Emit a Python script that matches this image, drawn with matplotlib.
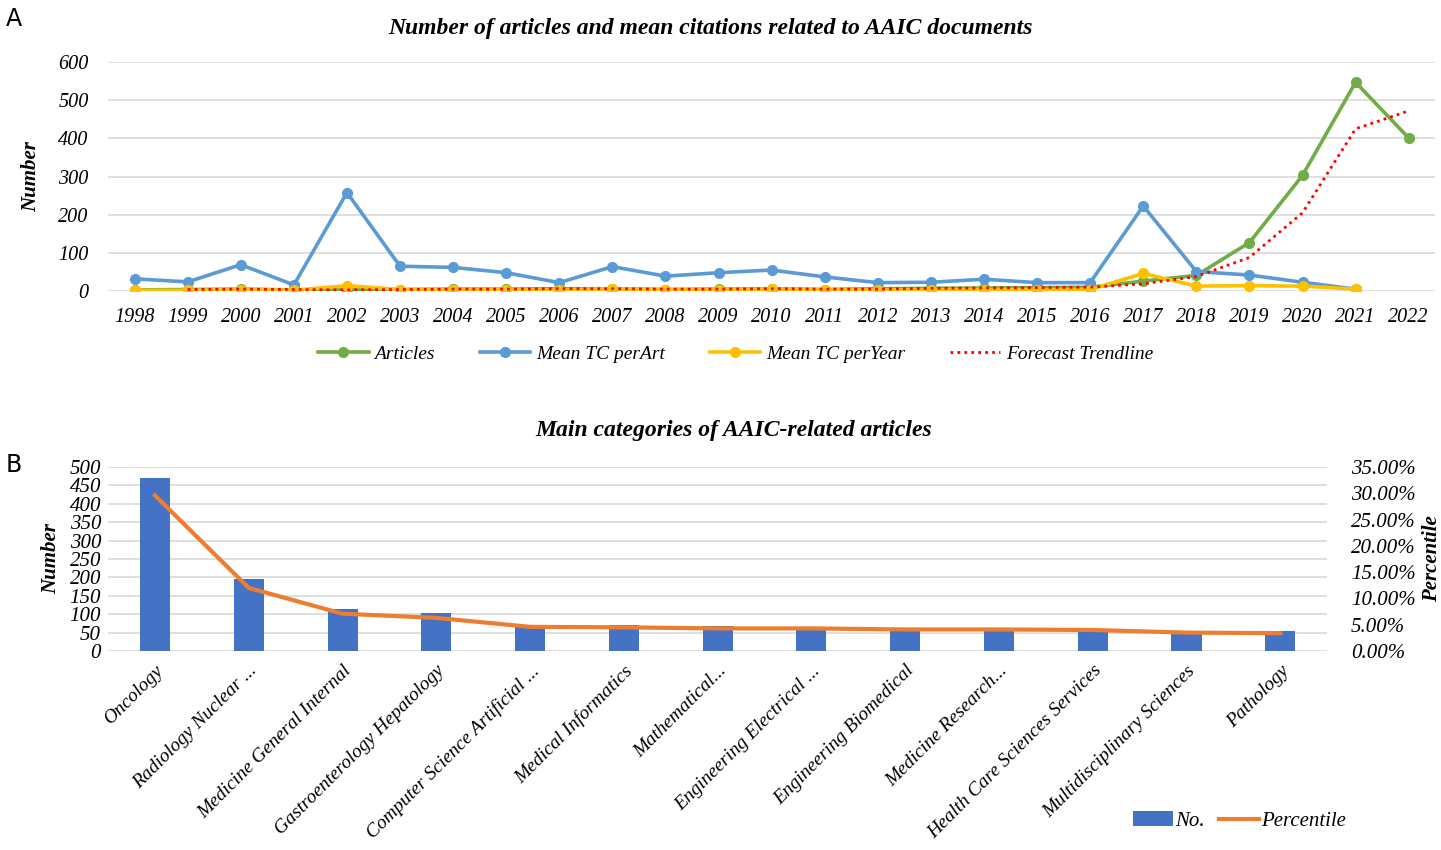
import numpy as np
import matplotlib
matplotlib.use("Agg")
import matplotlib.pyplot as plt
from matplotlib.ticker import FuncFormatter

plt.rcParams['font.family'] = ['Liberation Serif', 'DejaVu Serif']

# --- data, top chart ---
years = list(range(1998, 2023))
articles = [3, 4, 5, 3, 3, 4, 5, 5, 6, 6, 4, 5, 6, 4, 6, 7, 8, 9, 10, 26, 41, 127, 303, 547, 401]
mean_tc_art = [32, 24, 69, 16, 258, 65, 62, 48, 22, 64, 39, 48, 55, 37, 22, 23, 31, 22, 22, 223, 51, 42, 23, 5]
mean_tc_year = [2, 2, 4, 2, 14, 4, 4, 4, 3, 6, 3, 4, 5, 3, 3, 3, 4, 3, 4, 46, 13, 14, 13, 5]
trend = [4, 5, 4, 3, 4, 5, 5, 6, 6, 5, 5, 6, 5, 5, 7, 8, 9, 10, 19, 38, 88, 205, 425, 472]

# --- data, bottom chart ---
categories = ["Oncology", "Radiology Nuclear ...", "Medicine General Internal",
              "Gastroenterology Hepatology", "Computer Science Artificial ...",
              "Medical Informatics", "Mathematical...", "Engineering Electrical ...",
              "Engineering Biomedical", "Medicine Research...",
              "Health Care Sciences Services", "Multidisciplinary Sciences", "Pathology"]
counts = [469, 196, 113, 103, 72, 72, 68, 66, 63, 61, 61, 55, 54]
percent = [0.296, 0.120, 0.071, 0.063, 0.046, 0.045, 0.043, 0.043, 0.041, 0.041, 0.040, 0.035, 0.034]

fig = plt.figure(figsize=(14.41, 8.5), dpi=100)

# ---------- A ----------
ax1 = fig.add_axes([0.075, 0.6576, 0.921, 0.2694])
x = np.arange(len(years))
ax1.plot(x, articles, color='#70AD47', lw=2.6, marker='o', ms=7, label='Articles', zorder=3)
ax1.plot(x[:len(mean_tc_art)], mean_tc_art, color='#5B9BD5', lw=2.6, marker='o', ms=7,
         label='Mean TC perArt', zorder=4)
ax1.plot(x[:len(mean_tc_year)], mean_tc_year, color='#FFC000', lw=2.6, marker='o', ms=7,
         label='Mean TC perYear', zorder=5)
ax1.plot(x[1:], trend, color='#FF0000', lw=2, ls=(0, (1, 1.5)), label='Forecast Trendline', zorder=6)
ax1.set_xlim(-0.5, len(years) - 0.5)
ax1.set_ylim(0, 600)
ax1.set_yticks(range(0, 601, 100))
ax1.set_xticks(x)
ax1.set_xticklabels([str(y) for y in years], fontstyle='italic', fontsize=14.5)
for t in ax1.get_yticklabels():
    t.set_fontstyle('italic')
    t.set_fontsize(14.5)
ax1.tick_params(axis='x', length=0, pad=12)
ax1.tick_params(axis='y', length=0, pad=14)
ax1.grid(axis='y', color='#D9D9D9', lw=1.2)
ax1.set_axisbelow(True)
for s in ax1.spines.values():
    s.set_visible(False)
ax1.set_ylabel('Number', fontsize=15, fontweight='bold', fontstyle='italic', labelpad=12)
ax1.set_title('Number of articles and mean citations related to AAIC documents',
              fontsize=17, fontweight='bold', fontstyle='italic', pad=20, x=0.454)
ax1.legend(loc='center', bbox_to_anchor=(0.473, -0.275), ncol=4, frameon=False,
           prop={'style': 'italic', 'size': 14}, handlelength=2.6, columnspacing=2.3,
           handletextpad=0.3)

# ---------- B ----------
ax2 = fig.add_axes([0.075, 0.2341, 0.846, 0.2165])
xc = np.arange(len(categories))
bars = ax2.bar(xc, counts, width=0.32, color='#4472C4', label='No.', zorder=2)
ax2.set_xlim(-0.5, len(categories) - 0.5)
ax2.set_ylim(0, 500)
ax2.set_yticks(range(0, 501, 50))
for t in ax2.get_yticklabels():
    t.set_fontstyle('italic')
    t.set_fontsize(15)
ax2.set_xticks(xc)
ax2.set_xticklabels(categories, rotation=45, ha='right', rotation_mode='anchor',
                    fontstyle='italic', fontsize=14)
ax2.tick_params(axis='x', length=0, pad=8)
ax2.tick_params(axis='y', length=0, pad=5)
ax2.grid(axis='y', color='#D9D9D9', lw=1.2)
ax2.set_axisbelow(True)
for s in ax2.spines.values():
    s.set_visible(False)
ax2.set_ylabel('Number', fontsize=15, fontweight='bold', fontstyle='italic', labelpad=6)
ax2.set_title('Main categories of AAIC-related articles',
              fontsize=17, fontweight='bold', fontstyle='italic', pad=22, x=0.513)

ax3 = ax2.twinx()
line, = ax3.plot(xc, percent, color='#ED7D31', lw=3, label='Percentile', zorder=3)
ax3.set_ylim(0, 0.35)
ax3.set_yticks(np.arange(0, 0.351, 0.05))
ax3.yaxis.set_major_formatter(FuncFormatter(lambda v, p: '%.2f%%' % (v * 100)))
for t in ax3.get_yticklabels():
    t.set_fontstyle('italic')
    t.set_fontsize(15)
ax3.tick_params(length=0, pad=17)
for s in ax3.spines.values():
    s.set_visible(False)
ax3.set_ylabel('Percentile', fontsize=15, fontweight='bold', fontstyle='italic')
ax3.yaxis.set_label_coords(1.086, 0.5)
ax3.yaxis.label.set_verticalalignment('center')

ax2.legend([bars, line], ['No.', 'Percentile'], loc='center', bbox_to_anchor=(0.928, -0.924),
           ncol=2, frameon=False, prop={'style': 'italic', 'size': 15},
           handlelength=1.9, columnspacing=0.7, handletextpad=0.1)

fig.text(0.004, 0.978, 'A', fontsize=17, family='DejaVu Sans', va='center')
fig.text(0.004, 0.453, 'B', fontsize=17, family='DejaVu Sans', va='center')

fig.savefig('out.png', dpi=100, facecolor='white')
